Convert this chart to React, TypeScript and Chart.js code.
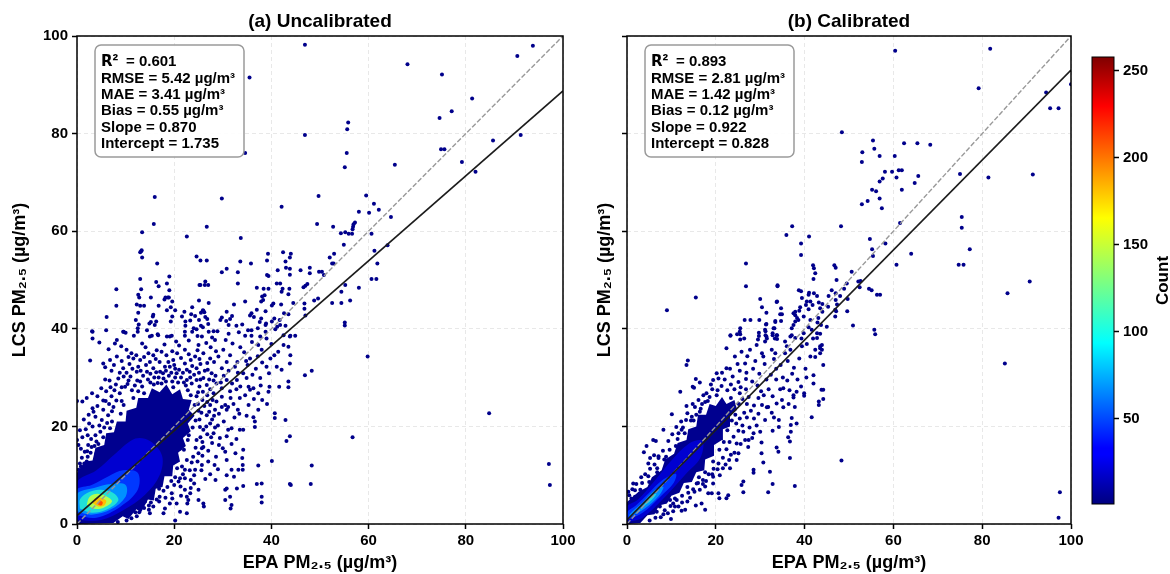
import React, { useEffect, useRef } from "react";
import { Chart, registerables } from "chart.js";

Chart.register(...registerables);

type P = [number, number];

const axisTicks = [0, 20, 40, 60, 80, 100];
const barTicks = [50, 100, 150, 200, 250];
const barRange: P = [1, 258];
const titleA = "(a) Uncalibrated";
const titleB = "(b) Calibrated";
const xTitle = "EPA PM₂.₅ (µg/m³)";
const yTitle = "LCS PM₂.₅ (µg/m³)";
const statsA = ["0.601", "RMSE = 5.42 µg/m³", "MAE = 3.41 µg/m³", "Bias = 0.55 µg/m³", "Slope = 0.870", "Intercept = 1.735"];
const statsB = ["0.893", "RMSE = 2.81 µg/m³", "MAE = 1.42 µg/m³", "Bias = 0.12 µg/m³", "Slope = 0.922", "Intercept = 0.828"];
const oneToOne: P[] = [[0, 0], [100, 100]];
const fitA: P[] = [[0, 1.735], [100, 88.735]];
const fitB: P[] = [[0, 0.828], [100, 93.028]];

const levelColors = ["#00008f", "#0000d0", "#0038ff", "#0090ff", "#20e0d8", "#b0ff50", "#ffc000", "#ff5000"];

const densityA: P[][] = [
  [[0, 0], [7.5, 0.2], [9.4, 1.6], [10.6, 1], [12.2, 3], [13.2, 2.4], [14.6, 5], [15.8, 4.8], [16.2, 7.2], [17.6, 7.6], [18, 9.8], [19.6, 9.8], [19.8, 12], [21.2, 12.8], [20.8, 14.6], [22.4, 16], [21.8, 17.6], [23.4, 19], [22.8, 20.6], [24.2, 22.2], [23, 23.4], [23.6, 25.4], [21.8, 25.6], [21.2, 27.6], [19.6, 26.6], [18.4, 28.6], [17, 27], [15.4, 27.8], [14.6, 25.8], [12.6, 25.8], [12.2, 23.8], [10.2, 23.2], [10, 21], [8.2, 21], [7.6, 18.8], [6, 18.6], [5.6, 16.2], [3.8, 15.6], [3.2, 13], [1.6, 12.8], [0, 10.5], [0, 0]],
  [[0, 0.8], [5, 0.8], [9.5, 2.8], [14, 6], [17, 10], [17.5, 14], [15, 17], [12, 17.5], [8, 14.5], [4, 11], [0, 8.5], [0, 0.8]],
  [[0, 1.8], [4, 1.3], [9, 3.6], [12.5, 7], [12.5, 10.5], [9.5, 11], [6.5, 9.8], [3, 8], [0, 7], [0, 1.8]],
  [[0, 2.6], [3, 1.9], [7, 3], [10, 5.6], [10, 8], [7, 8.2], [3.5, 7.4], [0, 6.2], [0, 2.6]],
  [[0.6, 3.2], [3, 2.3], [6, 2.9], [8.5, 4.8], [7.4, 6.4], [4.6, 7], [2, 6.3], [0.6, 5], [0.6, 3.2]],
  [[2, 4], [3.6, 3.1], [5.6, 3.4], [7.2, 4.6], [6.2, 5.6], [4.2, 6.2], [2.6, 5.6], [2, 4]],
  [[3.2, 4.3], [4.4, 3.6], [5.6, 3.8], [6, 4.8], [4.8, 5.4], [3.6, 5.2], [3.2, 4.3]],
  [[4.3, 4], [5, 3.8], [5.3, 4.4], [4.7, 4.8], [4.3, 4]],
];

const densityB: P[][] = [
  [[0, 0], [3, 0.2], [4.6, 1.8], [6.2, 2], [7.2, 3.8], [9, 4.2], [10, 5.8], [11.8, 6.4], [12.8, 8.4], [14.6, 8.6], [15.6, 10.6], [17.4, 11], [17.6, 13.2], [19.6, 14], [19.6, 16.2], [21.4, 17.2], [21.6, 19.4], [23.2, 20], [23.2, 22.2], [24.8, 23.4], [24.2, 25.4], [22.4, 24.6], [21.4, 26], [20, 24.2], [18.6, 24.6], [17.8, 22.4], [16, 22.4], [15.6, 20], [13.8, 19.4], [13.4, 17.2], [11.4, 16.6], [10.6, 14.4], [8.6, 13.2], [7.8, 11], [5.6, 9.6], [4.6, 7.6], [2.6, 6.6], [0, 4.5], [0, 0]],
  [[0, 0.4], [3.5, 1.3], [8, 5], [13, 10], [16.5, 13.5], [17, 17], [14, 16.5], [10, 13], [6, 8.6], [2.5, 5], [0, 3.5], [0, 0.4]],
  [[0, 0.8], [3.5, 2.3], [7.5, 5.6], [10.5, 8.4], [11, 10.3], [8, 9], [5, 6.4], [2, 3.8], [0, 2.4], [0, 0.8]],
  [[0.6, 1.4], [4, 3.2], [7, 5.6], [8.2, 7.6], [6.2, 6.9], [3.4, 4.3], [0.6, 2], [0.6, 1.4]],
  [[3.6, 3.6], [5.4, 4.8], [6.6, 6.2], [5.2, 5.6], [3.6, 3.6]],
];

const pointsA: P[] = [
  [46.9, 98.2], [68, 94.2], [75.1, 92.1], [90.6, 95.9], [93.8, 98], [81.3, 87.2], [77.1, 84.6], [74.6, 83.2], [55.8, 82.3], [55.6, 80.9], [46.9, 79.7], [91.3, 79.7], [85.6, 78.6], [74.9, 76.8], [75.6, 76.8], [55.5, 76], [65.4, 73.6], [55.1, 73.1], [79.2, 74.2], [82, 72.2], [59.5, 67.3], [49.7, 67.2], [35.5, 91.5], [34.6, 76],
  [29.8, 66.7], [61.1, 65.6], [42.1, 65], [58, 64], [60.1, 63.8], [62.1, 64.4], [64.6, 62.9], [26.7, 60.9], [49.4, 61.5], [52.7, 60.9], [57.2, 61.8], [56.9, 61.4], [56.8, 60.9], [56.7, 60.4], [54.3, 59.6], [55.2, 59.8], [55.9, 59.5], [56.6, 59.5], [60.6, 59.5], [33.7, 58.6], [54.9, 57.2], [63.9, 57.1], [61.2, 56], [39.3, 55.4], [42.4, 55.7], [44, 55.4], [43.8, 54.6], [52.9, 55.4], [52, 54.6], [52.8, 53.4], [52.5, 53.4], [25.4, 54], [26.7, 54], [33.6, 53.8], [35.8, 53.4], [39.1, 54], [42.9, 53.8], [61.8, 53.4],
  [30.8, 52.3], [29.8, 51.6], [33.1, 51.6], [43, 52.5], [43.8, 52.3], [41.3, 52], [46, 52], [47.9, 52.5], [47.9, 51.4], [49.8, 51.7], [50.4, 51.7], [50.8, 51], [43.8, 51.1], [39.1, 51], [39.4, 50.8], [60.6, 50.2], [61.6, 50.2], [25.4, 49], [26.4, 49.7], [26.3, 49], [27, 49], [33.1, 49.3], [41.1, 49.3], [41.8, 49.3], [55.2, 49], [37, 48.4], [38.4, 48.2], [39.4, 48.2], [42.3, 48.2], [42.1, 47.6], [43.5, 47.1], [43.7, 48.2], [47.4, 49.2], [47, 48.8], [46.6, 48.5], [58, 48.4], [54.4, 47.6],
  [38.6, 46.9], [38.1, 46.6], [38.3, 45.9], [37.9, 45.6], [49.6, 46.2], [48.8, 45.8], [56.2, 45.8], [52.5, 45.3], [54.4, 45.3], [34.6, 45.6], [32.3, 45], [27.1, 45.3], [40.4, 45.2], [40.1, 44.8], [42, 45], [44.5, 45.3], [46.8, 45.2], [46.8, 44.1], [37, 43.9], [38.8, 43.6], [30.8, 43.5], [26, 43.7], [35.9, 43.2], [35.6, 42.7], [36.4, 42.4], [42.6, 43.2], [43.5, 43], [47, 42.7], [55.1, 41.3], [55.1, 40.7], [59.8, 34.3], [84.8, 22.7], [56.7, 17.8], [97.1, 12.3], [97.3, 8],
  [16, 67], [15.8, 61.5], [13.4, 59.8], [22.6, 58.9], [13.2, 55.9], [13.3, 56.1], [13, 55.7], [13.4, 54.6], [16.5, 53.4], [24.6, 54.8], [13, 50.2], [19, 50.7], [18.5, 49.3], [16.3, 49.6], [16.8, 48.7], [8.1, 48.1], [13.2, 48.1], [19, 47.9], [25.2, 49], [12.6, 47], [12.8, 46.4], [15.2, 46.4], [18.2, 46.4], [18, 46], [18.7, 46.4], [18.9, 46.4], [19.6, 45.6], [25.1, 45.8], [8.1, 44.7], [12.3, 45], [13, 44.7], [13.8, 44.7], [16.8, 44.7], [19.3, 44.4], [18.5, 43.8], [20.2, 43.8], [23.7, 44.4], [12.6, 43.3], [12.1, 41.8], [12.7, 40.9], [12.5, 40.1], [6.1, 42.4], [15.7, 42.9], [15.6, 42.5], [16.3, 41.5], [15.2, 41.4], [16, 40.8], [14.9, 41.1], [14.4, 39.7], [19.6, 42.5], [19.3, 41.5], [22.1, 43.5], [21.6, 42.5], [22.3, 41.5], [22.3, 40.6], [23.3, 41.7], [23.5, 43], [24.3, 42.6], [25.1, 41.8], [25.9, 43.8], [25.5, 43.3], [26.2, 43.4], [26.4, 42.4], [26.8, 42], [27, 41], [25.5, 40.6], [25.9, 40.3], [24, 40.1], [24.6, 39.9],
  [29.8, 42.3], [29.5, 41.8], [31.9, 42.6], [31.5, 42], [30.7, 41.6], [31.2, 40.8], [34, 40.9], [32.8, 40.6], [35.2, 39.7], [35.9, 39.7], [37.9, 42.1], [37.6, 41.4], [37.2, 40.1], [38.9, 41.1], [38.8, 40.8], [40.1, 41.5], [40.6, 42.1], [41.7, 41.8], [41.2, 40.4], [40.8, 39.9], [41.8, 40.8], [42.9, 40.6], [3.1, 39.5], [6, 39.7], [9.6, 39.4], [10, 39.2], [11.7, 38.6], [12.5, 39.4], [15.4, 38.6], [16.6, 38.9], [18.5, 38.4], [19.5, 38.6], [22.2, 39.4], [22.2, 38.6], [23.7, 39.4], [24.8, 38.5], [25.7, 38.4], [27.1, 39.4], [28.1, 39.5], [28.9, 39.5], [27.8, 38.2], [31.2, 39], [33.3, 39.3], [34.6, 38.6], [35.9, 38.6], [37.7, 38.4], [38.8, 39.4], [42.5, 38.7], [43.9, 38.6], [44.9, 38.6],
  [48.3, 31.4], [46.9, 30.5], [43.8, 32.9], [43.9, 34.6], [43.5, 29.2], [43.5, 28], [41.6, 28.1], [39.6, 28.1], [39.4, 27.1], [37.3, 26.8], [36.3, 27.8], [35.3, 28.1], [40.7, 22.7], [40.7, 21.7], [42.9, 21.3], [43.8, 18], [43.1, 17], [40.1, 12.9], [48.3, 12], [48.1, 8.2], [43.8, 8.2], [44, 8], [37.3, 12], [37, 8.2], [38, 8.3], [38, 5.6], [38, 4.4], [34.1, 12.1], [34.1, 11.1], [34, 13.5], [34.2, 15.2], [32.6, 14.5], [30.8, 13.1], [30.5, 14.8], [31.8, 11.1], [30.8, 10], [32.3, 9.7], [33.2, 11.1], [34.2, 7.8], [30.8, 7.3], [30.5, 7], [32.9, 7.3], [31.5, 5.6], [31.8, 3.9], [31.6, 3.2], [30.5, 4.9], [26, 4.2], [26.1, 3.6], [25, 4.9], [22.6, 2.2], [22.7, 4.2], [22.6, 5.6], [21.2, 2.5], [17.8, 2.2], [15, 2.2], [20.2, 0.7],
  [28.5, 9], [28.3, 12.1], [27, 12.8], [25.7, 12.1], [24.3, 11.1], [24.1, 10], [24.1, 8.3], [25, 7], [23.3, 6.3], [22.9, 4.9], [21.3, 7.7], [29.2, 16.2], [29.4, 17.6], [28.1, 18.6], [30, 15.5], [31.1, 19.3], [31.8, 19.6], [33.5, 19.3], [34.2, 19.3], [36.6, 19.9], [36.6, 21], [36.3, 21.9], [37.3, 23.4], [35.3, 24.4], [33.5, 25.8], [31.1, 24], [30.8, 23.4], [35.6, 33.9], [37.3, 36.7], [39, 38], [41.4, 35.3], [42.5, 36.7], [43.5, 36.3], [43.8, 38.4], [39.5, 30.9], [41.1, 32.2], [42.1, 31.6], [37.7, 29.9], [39, 32.2], [34.2, 30.9], [34.9, 29.9], [32.9, 29.5], [35.6, 27.5],
  [1.1, 25.1], [2.7, 33.5], [5.4, 32.9], [5.8, 32.1], [3.2, 39.4], [3.2, 38], [6.5, 35.8], [5.8, 29.6], [6.7, 29.4], [8.5, 29.8], [2.5, 20.6], [3.2, 23.7], [4.2, 24.2], [5.4, 25.3], [7.1, 26.2], [8.2, 37.7], [7.8, 37], [9.5, 39.4], [10.2, 35.7], [11.2, 35], [8.2, 34.3], [11.6, 33.9], [13, 33.6], [9.5, 31.9], [12.3, 31.2], [14.7, 35], [15.7, 34.6], [17.4, 35.3], [15, 38.4], [16.7, 38.7], [19.1, 38.4], [22.2, 32.9], [24.3, 34.3], [26, 35], [28.4, 37.7], [30.1, 35.7], [27.4, 33.9], [24.6, 31.9], [29.1, 34.3], [31.5, 34.6], [32.5, 32.2], [29.8, 31.9], [27.7, 30.9], [26, 29.9], [22.2, 35.7], [19.8, 33.6], [18.1, 32.2],
  [8.8, 26.8], [9.9, 28.1], [7.5, 24], [6.4, 22.3], [5.1, 21.3], [5.4, 23.4], [3.4, 23], [4, 16.9], [2.3, 16.2], [4, 14.5], [15.7, 31.9], [17.1, 31.2], [19.1, 32.2], [20.5, 30.9], [22.6, 29.5], [24.6, 29.5], [26.7, 28.5], [28.7, 28.8], [30.8, 29.5], [28.1, 26.8], [29.8, 26.1], [28.7, 25.1], [30.5, 24.4], [27.4, 24.4], [26, 19.3], [25.3, 19.9], [27.4, 20.6], [26.7, 22.3], [28.4, 23.4], [29.8, 24], [24.6, 17.2], [25.7, 15.5], [26, 15.8], [25, 14.5], [23.9, 13.8], [22.6, 13.1], [22.2, 11.1], [22.2, 9.4], [20.9, 8.7], [19.5, 6.3], [22.2, 7], [20.5, 4.2], [19.1, 4.2], [18.1, 3.2], [15.7, 3.6], [0.3, 11.1], [0.6, 12.4], [2, 12.8], [3.7, 13.1], [0, 17.2], [0.3, 16.2], [1.6, 14.8], [3, 15.8], [0, 25.2],
  [11, 30.2], [12.4, 29.4], [13.6, 30.4], [14.6, 29.6], [15.9, 30], [16.6, 28.9], [17.8, 29.8], [18.9, 30.4], [19.6, 29.2], [20.8, 29], [21.4, 30], [22.4, 28.4], [23.6, 28.8], [24.1, 30.6], [25.2, 28.2], [25.9, 27.1], [26.8, 26.4], [27.4, 27.6], [27.9, 25.4], [23.2, 31.2], [21, 31.6], [20, 32.6], [17, 33.2], [14.2, 32.6], [12.6, 32.2], [10.8, 32.8], [10.4, 28.7], [11.3, 27.4], [12.6, 27.2], [13.4, 28.2], [9.2, 25.2], [8.1, 25.3], [7.2, 23.1], [6.2, 20.7], [5.6, 19.8], [4.8, 18.9], [3.8, 18.2], [2.9, 17.4], [2.1, 14.9], [1, 13.6], [9.2, 28], [7.7, 27.4],
  [16.2, 33.8], [18.4, 34.6], [20.6, 35], [23.4, 33.6], [25.4, 32.8], [26.9, 31.6], [28.5, 30.4], [29.8, 27.8], [31.5, 27.2], [32.8, 27.6], [33.1, 23.4], [32.4, 21.8], [30.2, 21], [29, 20.2], [27.8, 16.6], [27, 15], [25.6, 11], [23.4, 9], [21.2, 9.4], [20, 8], [18.2, 5.4], [16.9, 4.6], [14.8, 2.9], [12.3, 1.6], [10.2, 0.7], [8.4, 0.4],
  [4.6, 37.2], [9.1, 36.4], [13.4, 37], [14.1, 36.2], [18, 36.8], [20.4, 37.4], [21, 36.6], [23, 37.6], [25, 36.7], [26.6, 37.1], [27.5, 36.2], [30.6, 37.7], [32, 37], [33.6, 36.2], [36, 37.3], [38, 35.7], [40, 36.9], [34.4, 35.2], [37.2, 34.4], [39.8, 33.9], [40.6, 34.6], [33, 33.2], [35.1, 32.6], [36.8, 31.8], [38.1, 33.1],
  [6.8, 33.6], [7.6, 32.6], [9.2, 33.4], [10.6, 34.2], [12.2, 34.6], [13.8, 34.2], [15, 33.2], [16.4, 35.6], [18.8, 33.2], [19.6, 35.4], [21.4, 34], [23, 34.8], [24.8, 35.6], [25.2, 33.8], [26.8, 33], [28.2, 33.2], [28.6, 35.4], [30.8, 33.2], [31.2, 31.4], [33.1, 31], [34.8, 33.4], [36.1, 30.6], [30.2, 30.4], [31.9, 28.8], [33.6, 28.2], [34.6, 26.4], [36.4, 25.6], [38.1, 25.4], [39.1, 24.6], [37.8, 28.4],
  [7.1, 31.4], [8.8, 31], [10.2, 31], [11.4, 31.8], [13.1, 31.4], [14.4, 31.2], [15.1, 30.8], [16.3, 31.1], [17.7, 30.9], [18.3, 31.4], [19.4, 31], [20.2, 31.8], [21.8, 31], [22.6, 31.6], [23.7, 32.4], [25.1, 31], [26.3, 31.4], [27.2, 29.6], [28.1, 29.4], [29.6, 29], [25.4, 29.6], [23.3, 30], [22, 29], [20.2, 30], [18.3, 29.2], [16.8, 30], [15.1, 29], [13, 29.2], [11.9, 28.4], [10.6, 29.4], [9.6, 30.2], [8, 28.6], [6.9, 28], [6, 27.2], [5, 27.8], [4.2, 26.2], [3.1, 26.8], [2, 25.8], [5.9, 25.2], [6.6, 24.6], [3.8, 22], [4.6, 20.2], [2.4, 22.4], [1.4, 21.4], [1.8, 19.4], [3.2, 20], [0.6, 19.2], [1.1, 17.8], [2.2, 18.2], [0.8, 15.4], [3.6, 16], [1.5, 12.4], [2.8, 14.6],
  [24.9, 27], [25.8, 25.4], [26.2, 24.2], [25.6, 22.8], [25.2, 21.4], [24.9, 24.6], [26.8, 25], [27.2, 23], [28.2, 22.2], [29.2, 22.6], [27.8, 21.4], [26.6, 20], [28.4, 19.8], [26.8, 18.4], [25.4, 17.8], [27.6, 17.8], [25.8, 16.8], [24.4, 15.6], [25.8, 14], [23.6, 12.6], [24.8, 12.8], [23.2, 11], [21.8, 10.2], [20.2, 9.6], [19.4, 8.8], [18.6, 7.6], [17.8, 6.8], [19.6, 5.2], [21.4, 5.8], [17, 5.6], [16.4, 5], [15.2, 4.4], [13.8, 3.3], [12.8, 2.4], [11.2, 1.2], [14.8, 3.8], [23.4, 7.4], [26.4, 9.2], [27.4, 10.2], [28.6, 13.8], [29, 11.2], [31.8, 16.4], [32.8, 17.4], [30.8, 18], [33.4, 22.6], [34.9, 22.2], [32.2, 24.6], [31.6, 25.8],
  [22.8, 27.4], [23.4, 26.4], [24.6, 26.2], [24.2, 24.4], [25, 23.2], [24.4, 21.2], [23.8, 19.8], [23, 18.2], [22.8, 17.2], [22, 15.2], [21.2, 15.4], [21.6, 11.8], [20.6, 11.4], [18.8, 10.6], [16.9, 7.2], [15.2, 6.4], [14, 4.6], [12, 2.4], [19.8, 28], [17.4, 28.8], [15.8, 28.6], [13.8, 26.8], [11.6, 25.8], [9.6, 24.4], [9, 22.6], [7.2, 21], [6.8, 19.6], [5.4, 17.8], [4.4, 16.4], [2.2, 13.8], [0.8, 11.8],
];

const pointsB: P[] = [
  [81.8, 97.4], [60.4, 97], [79.2, 89.3], [94.4, 88.4], [100, 90.1], [97.2, 85.2], [95.3, 85.2], [48.4, 80.3], [55.4, 78.6], [55.7, 76.9], [53, 76.2], [52.9, 74.2], [56.9, 75.4], [60.3, 75.4], [62.4, 78], [65.4, 78], [68.3, 77.7], [58.1, 72.2], [59.7, 72.2], [61.2, 72.5], [61.9, 72.5], [57.6, 70.8], [56.9, 70.2], [60.7, 71], [65.6, 71.3], [64.8, 69.9], [61.9, 68.5], [55.2, 68.5], [56.1, 68.2], [56.9, 66.7], [54.2, 66.2], [52.9, 65.5], [57.4, 64.7], [75, 71.7], [81.4, 71], [91.4, 71.6], [75.4, 62.9], [75.4, 60.7], [61.5, 61.7], [37.2, 61], [48.2, 61], [35.9, 59.2], [41, 58.9], [54.7, 58.4], [39.2, 57.5], [39.2, 55.1], [58.2, 57.5], [55.2, 56.3], [55.4, 54.9], [64, 55.4], [60.7, 53.1], [74.7, 53.1], [75.8, 53.1], [77.2, 56.3], [90.7, 49.7], [85.7, 47.3], [85.1, 32.9], [97.5, 6.5], [97.2, 1.3],
  [41.9, 53], [42.1, 52.4], [42.4, 51.4], [42, 50.2], [46.7, 53], [47, 52.5], [50.6, 51.7], [47.2, 50], [52.1, 49.7], [52.6, 49.8], [52.4, 48.5], [49.5, 49.3], [54.5, 48.2], [55.1, 47.9], [56.3, 47], [57, 47], [33.9, 48.9], [38.7, 47.9], [39.2, 47.7], [41, 47.4], [40.9, 47], [42.1, 47.3], [42.8, 46.7], [46.1, 47.9], [45.4, 46.7], [47, 47.3], [48, 46.7], [48.9, 48.2], [49.7, 46.1], [47, 45.9], [47.3, 45], [46.9, 43.9], [47.1, 43.6], [46.9, 42.5], [49.6, 43.6], [45.3, 44.5], [33.8, 45.6], [40.5, 45.6], [41.3, 45.6], [40.3, 44.9], [41.8, 44.9], [39.4, 46.3], [40.9, 44], [43.2, 45.4], [44, 45.1], [43.5, 44.2], [44, 43.5], [43.1, 42.2],
  [39, 44.4], [38.8, 43.7], [37.9, 43.5], [37.5, 43.2], [37.9, 42.8], [38.3, 42.2], [39.8, 42.5], [38.6, 41.8], [37.9, 41.5], [37.5, 40.8], [37.1, 40.1], [34.7, 44.2], [34.5, 43], [34.9, 43], [31.4, 43.3], [30.4, 44.4], [34.7, 41.6], [33.4, 41.6], [41.3, 41.8], [40.9, 40.3], [42.9, 41.3], [43.7, 40.8], [45, 40.4], [42.8, 39.1], [42.8, 38.1], [41.6, 39.8], [50.9, 40.7], [55.7, 39.8], [55.9, 38.9], [31.1, 39.8], [31.4, 41], [33, 40.1], [32.8, 39.1], [33.8, 38.7], [31.4, 38.4], [31.1, 37.4], [33.8, 37.9], [35.6, 37.4], [36.8, 38.4], [37.9, 38.1], [39.8, 39.1], [32.6, 35.7], [33.4, 35], [36, 36.4], [36.8, 35.7], [39.4, 36.4], [40.5, 36.9], [42.4, 35.7], [43.5, 36.4], [43.9, 35.7], [41.3, 34.3], [42.4, 34.2], [43.5, 35], [30.4, 35], [35.6, 35],
  [26.8, 53.4], [26.8, 48.7], [33.9, 48.7], [15.5, 46.4], [9, 43.8], [30, 46.1], [33.7, 45.5], [26.5, 41.8], [27.8, 41.8], [29.8, 41.8], [33.4, 41.4], [31.3, 40.9], [33.2, 40.1], [25.5, 40.1], [25.4, 39.4], [25.5, 38.9], [24.8, 38.9], [23.3, 38.6], [26.4, 38], [25.5, 37.8], [29.7, 39.2], [29.7, 38.5], [31.2, 39.5], [31.2, 38.7], [32.8, 38.7], [31.5, 38], [29.5, 37.8], [33.3, 38],
  [13.7, 33.5], [13.4, 32.6], [22.4, 36], [23.3, 38.7], [15.5, 29.7], [16.4, 29], [14.8, 28.1], [15.1, 27.9], [12, 27.1], [10.1, 22.5], [8.2, 19.3], [5.9, 17.2], [6.5, 17], [4.4, 16], [3.8, 14.7], [6.1, 14.1], [7.1, 13.5], [4.8, 12.4], [5.2, 13.5], [1.4, 8.3], [0.5, 5.9], [1.8, 5.6], [13.4, 24.2], [13.3, 21.3], [15.3, 24], [16.4, 23], [14.6, 22], [12.3, 19.3], [11.6, 18.6], [17.2, 26.4], [17.6, 25], [20.2, 30.9], [20.6, 29.8], [19.4, 29.5], [22.4, 31.9], [24.3, 34.3], [25.8, 35.3], [26.6, 32.9], [27.7, 35.7], [29.2, 36.7], [30.7, 34.3], [33.7, 38.7], [37.1, 38.7], [39.3, 38], [41.9, 38], [43.5, 39], [43.9, 36.7], [43.5, 36],
  [48.3, 13], [44.2, 32.6], [43.8, 27.5], [44.2, 27.5], [44.2, 25.6], [43.2, 25.1], [43.2, 24.4], [42, 30.5], [42, 28.8], [39.9, 26.8], [39.9, 26.3], [37.5, 26.4], [37.5, 25.9], [41.6, 21.9], [38.2, 20.6], [37.1, 21.7], [36.9, 20.3], [36.9, 18.9], [36.3, 17.8], [36.7, 16.9], [35.2, 27.8], [34.5, 27.6], [33.7, 24.7], [35.2, 23.9], [34.2, 21.3], [34.2, 19.9], [32.8, 19.1], [31.5, 23.9], [31.8, 24], [31.1, 21.3], [30, 18.9], [30.3, 16.7], [30.3, 14.5], [30.7, 12.6], [28.5, 11.1], [28.5, 10.5], [32.2, 10.7], [32.8, 8.2], [31.8, 6.5], [37.8, 7.8], [36.7, 13.5], [33.7, 15.7], [34.1, 14.8], [26.2, 8.7], [25.8, 8], [26.2, 6.5], [22.8, 5.9], [22.4, 5.3], [20.6, 6.3], [20.8, 5.3], [19.1, 6.3], [17.6, 2.9], [16.8, 4.2], [15.5, 3.8], [13.1, 2.9], [12.3, 2.7], [9.9, 1], [8.2, 2],
  [27.3, 15.8], [28.5, 18.6], [26.2, 18.9], [26.6, 17.2], [24.7, 16.5], [25.1, 14.5], [24.7, 13.1], [23.2, 11.4], [23, 13.1], [20.9, 10], [19.4, 9.7], [19.4, 8.3], [17.6, 7.7], [16.4, 7], [18.3, 6.3], [15.7, 8.3], [9.7, 4.9], [10.4, 4.2], [10.8, 3.6], [6.7, 2.5], [7.4, 3.6], [8.6, 4.6],
  [0.3, 6.6], [1.2, 7.1], [2.1, 8.2], [3.2, 9.6], [4.1, 10.2], [5.2, 11.3], [6.2, 12.2], [7.1, 13.9], [8.1, 15], [9.3, 17], [10.2, 18.4], [11.1, 19.9], [12.2, 21], [13.6, 22.7], [14.8, 24.6], [16.1, 25.4], [17.9, 26.8], [19.2, 27.6], [21.3, 28.3], [23.4, 28.6], [25.1, 29.1], [26.8, 29.7], [28.2, 29.2], [29.4, 28.4], [30.2, 27.2], [29.6, 25.8], [28.6, 24.3], [27.9, 23.2], [27, 21.8], [26, 20.2], [25.1, 19.1], [24, 17.9], [23.1, 16.8], [22.4, 15.3], [21.6, 13.6], [20.6, 12.4], [19.5, 11.3], [18.4, 10.2], [17.1, 9], [16, 8.4], [14.9, 7.1], [13.8, 6.4], [12.4, 5.8], [11.2, 4.9], [9.8, 3.7], [8.5, 2.8], [6.4, 1.3], [5.1, 0.7],
  [1.8, 6.9], [3.4, 8.4], [4.8, 9.8], [6.8, 11.4], [8.4, 13.2], [9.6, 15.2], [11.4, 17.4], [12.6, 19.8], [14.4, 21.2], [15.6, 22.4], [16.9, 24.6], [18.6, 26], [18.9, 28.6], [20.4, 27.4], [22, 29.6], [23.8, 30.2], [25.4, 31.4], [26.9, 31], [28.4, 31.8], [29.8, 30.8], [31.4, 29.6], [32.4, 30.6], [33.6, 31.8], [34.6, 32.6], [36.2, 33.4], [37.6, 32], [38.8, 33.9], [40.2, 31.8], [31, 32.8], [33.1, 33.8], [28.9, 33.4], [27.1, 34.4], [24.9, 32.8], [23.2, 31.8], [21.4, 31],
  [30.8, 26.4], [31.9, 27.6], [32.8, 26.2], [33.6, 29.6], [35.1, 30], [36.1, 29.4], [37.2, 30.8], [38.4, 29.6], [39.2, 28.2], [40.4, 30], [36.6, 27.4], [38.2, 27.1], [34.9, 25.4], [36.4, 24.6], [37.8, 24], [32.6, 22.8], [33.1, 21.8], [30.4, 24.4], [29.6, 22.6], [28.6, 21.6], [29.2, 20.2], [27.6, 19.8], [28.2, 17.6], [27.4, 17.2], [25.6, 16.4], [24.2, 14.6], [23.4, 14.2], [22.2, 12.2], [21.6, 11.4], [20.4, 11.2], [19.2, 10.2], [17.8, 8.8], [17.1, 8.2], [15.2, 6.6], [14.2, 5.4], [13.6, 4.6], [12.4, 4.4], [11.6, 3.6], [10.4, 2.6], [9.2, 2.2], [7.6, 1.4], [23.4, 25.8], [25.4, 26.8], [26.8, 27.6], [27.4, 26], [27, 24.6], [26.4, 22.8], [25.4, 21.6], [24.6, 20.6],
  [22.6, 27.4], [24.2, 27.6], [25.6, 28], [26, 25.6], [25.2, 24.6], [24.4, 22.4], [23.6, 21.2], [22.6, 19.2], [21.8, 16.8], [20.8, 15.2], [19.4, 12.8], [17.6, 10.6], [16.2, 9.6], [13.6, 7.6], [10.8, 5.2], [20.2, 26.4], [18.2, 25.2], [16.6, 23.6], [15, 21.2], [13, 18.6], [11, 16], [8.8, 13.8], [6.8, 10.6], [5, 8.6], [3, 7], [1, 5.2],
];

const jetStops: [number, string][] = [[0, "#00007f"], [0.11, "#0000ff"], [0.125, "#0000ff"], [0.36, "#00ffff"], [0.5, "#7fff7f"], [0.64, "#ffff00"], [0.89, "#ff0000"], [1, "#7f0000"]];

const BASE_FONT = '"Liberation Sans", Arial, sans-serif';
const toXY = (list: P[]) => list.map(([x, y]) => ({ x, y }));

function panelConfig(title: string, stats: string[], points: P[], density: P[][], fit: P[], showLabels: boolean, leftWidth: number, rightPad: number, yTitlePad: number): any {
  const framePlugin = {
    id: "frame",
    afterDatasetsDraw(chart: any) {
      const { ctx, chartArea: a } = chart;
      ctx.save();
      ctx.strokeStyle = "#000";
      ctx.lineWidth = 1.5;
      ctx.strokeRect(a.left, a.top, a.right - a.left, a.bottom - a.top);
      const bx = a.left + 18, by = a.top + 9, bw = 149, bh = 112;
      ctx.beginPath();
      ctx.roundRect(bx, by, bw, bh, 6);
      ctx.fillStyle = "rgba(255,255,255,0.92)";
      ctx.fill();
      ctx.strokeStyle = "#9a9a9a";
      ctx.lineWidth = 1.5;
      ctx.stroke();
      ctx.fillStyle = "#000";
      ctx.textBaseline = "alphabetic";
      ctx.textAlign = "left";
      const tx = bx + 6;
      ctx.font = 'bold 15px "DejaVu Sans"';
      ctx.fillText("R", tx, by + 21);
      const rw = ctx.measureText("R").width;
      ctx.font = `bold 17px ${BASE_FONT}`;
      ctx.fillText("²", tx + rw, by + 21);
      ctx.font = `bold 15px ${BASE_FONT}`;
      ctx.fillText("= " + stats[0], tx + 25, by + 21);
      const offsets = [38, 54, 70, 87, 102.5];
      stats.slice(1).forEach((line, i) => ctx.fillText(line, tx, by + offsets[i]));
      ctx.restore();
    },
  };
  const densitySets = density.map((poly, i) => ({
    type: "line",
    data: toXY(poly),
    borderWidth: 0,
    borderColor: "rgba(0,0,0,0)",
    backgroundColor: levelColors[i],
    fill: "shape",
    tension: i === 0 ? 0 : 0.35,
    pointRadius: 0,
    showLine: true,
    order: 20 - i,
  }));
  return {
    type: "scatter",
    data: {
      datasets: [
        { label: "1:1", type: "line", data: toXY(oneToOne), borderColor: "#999999", borderWidth: 1.4, borderDash: [5, 2], pointRadius: 0, fill: false, order: 1 },
        { label: "fit", type: "line", data: toXY(fit), borderColor: "#1c1c1c", borderWidth: 1.7, pointRadius: 0, fill: false, order: 0 },
        ...densitySets,
        { label: "points", data: toXY(points), backgroundColor: "#00008b", borderWidth: 0, pointRadius: 2, order: 30 },
      ],
    },
    plugins: [framePlugin],
    options: {
      responsive: false,
      animation: false,
      layout: { padding: { left: 0, right: rightPad, top: 0, bottom: 0 } },
      plugins: {
        legend: { display: false },
        tooltip: { enabled: false },
        title: { display: true, text: title, fullSize: false, color: "#000", font: { family: BASE_FONT, size: 19, weight: "bold", lineHeight: 1.2 }, padding: { top: 10, bottom: 3.2 } },
      },
      scales: {
        x: {
          type: "linear", min: 0, max: 100,
          afterBuildTicks: (s: any) => { s.ticks = axisTicks.map((value) => ({ value })); },
          afterFit: (s: any) => { s.height = 50; },
          grid: { color: "rgba(128,128,128,0.18)", tickColor: "#000", tickLength: 5, tickWidth: 1.5, lineWidth: 1 },
          border: { display: false, dash: [4, 3] },
          ticks: { color: "#000", padding: 3, maxRotation: 0, font: { family: BASE_FONT, size: 15, weight: "bold" } },
          title: { display: true, text: xTitle, color: "#000", font: { family: BASE_FONT, size: 18, weight: "bold" }, padding: { top: 0, bottom: 0 } },
        },
        y: {
          type: "linear", min: 0, max: 100,
          afterBuildTicks: (s: any) => { s.ticks = axisTicks.map((value) => ({ value })); },
          afterFit: (s: any) => { s.width = leftWidth; },
          grid: { color: "rgba(128,128,128,0.18)", tickColor: "#000", tickLength: 5, tickWidth: 1.5, lineWidth: 1 },
          border: { display: false, dash: [4, 3] },
          ticks: { color: "#000", padding: 4, font: { family: BASE_FONT, size: 15, weight: "bold" }, callback: (v: any) => (showLabels ? v : "") },
          title: { display: true, text: yTitle, color: "#000", font: { family: BASE_FONT, size: 18, weight: "bold" }, padding: { top: yTitlePad, bottom: 0 } },
        },
      },
    },
  };
}

function barConfig(): any {
  const countLabel = {
    id: "countLabel",
    afterDraw(chart: any) {
      const { ctx, chartArea: a } = chart;
      ctx.save();
      ctx.strokeStyle = "#000";
      ctx.lineWidth = 1;
      ctx.strokeRect(a.left, a.top, a.right - a.left, a.bottom - a.top);
      ctx.translate(81, (a.top + a.bottom) / 2);
      ctx.rotate(-Math.PI / 2);
      ctx.textAlign = "center";
      ctx.textBaseline = "middle";
      ctx.fillStyle = "#000";
      ctx.font = `bold 17px ${BASE_FONT}`;
      ctx.fillText("Count", 0, 0);
      ctx.restore();
    },
  };
  return {
    type: "bar",
    data: {
      labels: ["Count"],
      datasets: [{
        data: [barRange],
        barPercentage: 1,
        categoryPercentage: 1,
        borderWidth: 0,
        backgroundColor: (c: any) => {
          const a = c.chart.chartArea;
          if (!a) return "#000";
          const g = c.chart.ctx.createLinearGradient(0, a.bottom, 0, a.top);
          jetStops.forEach(([t, col]) => g.addColorStop(t, col));
          return g;
        },
      }],
    },
    plugins: [countLabel],
    options: {
      responsive: false,
      animation: false,
      layout: { padding: { left: 10, right: 0, top: 57, bottom: 70 } },
      plugins: { legend: { display: false }, tooltip: { enabled: false } },
      scales: {
        x: { display: false },
        y: {
          position: "right", min: barRange[0], max: barRange[1],
          afterBuildTicks: (s: any) => { s.ticks = barTicks.map((value) => ({ value })); },
          afterFit: (s: any) => { s.width = 56; },
          grid: { display: true, drawOnChartArea: false, tickColor: "#000", tickLength: 5, tickWidth: 1.5 },
          border: { display: false },
          ticks: { color: "#000", padding: 4, font: { family: BASE_FONT, size: 15, weight: "bold" } },
        },
      },
    },
  };
}

export default function App() {
  const a = useRef<HTMLCanvasElement>(null);
  const b = useRef<HTMLCanvasElement>(null);
  const c = useRef<HTMLCanvasElement>(null);
  useEffect(() => {
    const charts = [
      new Chart(a.current!, panelConfig(titleA, statsA, pointsA, densityA, fitA, true, 77, 27, 9)),
      new Chart(b.current!, panelConfig(titleB, statsB, pointsB, densityB, fitB, false, 37, 39, 4)),
      new Chart(c.current!, barConfig()),
    ];
    return () => charts.forEach((ch) => ch.destroy());
  }, []);
  const pos = (left: number): React.CSSProperties => ({ position: "absolute", left, top: 0, display: "block" });
  return (
    <div style={{ position: "absolute", left: 0, top: 0, width: 1170, height: 574, overflow: "hidden", background: "#fff" }}>
      <canvas ref={a} width={590} height={574} style={pos(0)} />
      <canvas ref={b} width={520} height={574} style={pos(590)} />
      <canvas ref={c} width={88} height={574} style={pos(1082)} />
    </div>
  );
}
